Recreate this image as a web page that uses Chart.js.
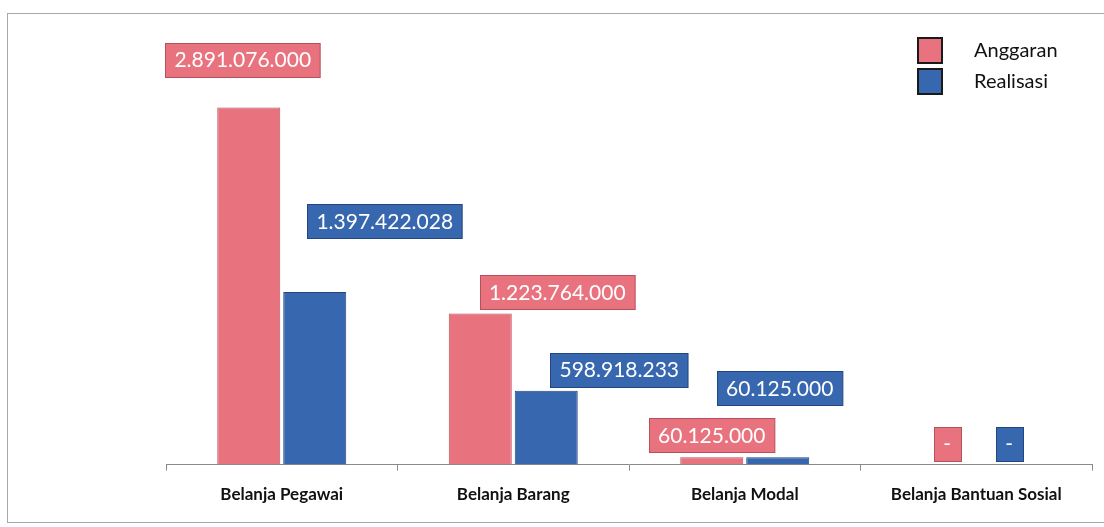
<!DOCTYPE html>
<html>
<head>
<meta charset="utf-8">
<script src="https://cdn.jsdelivr.net/npm/chart.js@4"></script>
<style>
  html, body { margin: 0; padding: 0; background: #ffffff; }
  #wrap { width: 1104px; height: 527px; position: relative; }
</style>
</head>
<body>
<div id="wrap"><canvas id="c" width="1104" height="527"></canvas></div>
<script>
// ---- data ----
const categories = ['Belanja Pegawai', 'Belanja Barang', 'Belanja Modal', 'Belanja Bantuan Sosial'];
const seriesNames = ['Anggaran', 'Realisasi'];
const anggaran = [2891076000, 1223764000, 60125000, 0];
const realisasi = [1397422028, 598918233, 60125000, 0];

// ---- style ----
const fillColors = ['#E8737F', '#3767AE'];
const edgeColors = ['#B8505C', '#22467F'];
// label box centre offsets relative to bar top-centre [dx, dy] per series, per category
const labelOffsets = [
  [[-6, -48], [77, -21], [0, -22], [4, -21]],
  [[70, -71], [73, -21], [2, -69], [0, -21]]
];

function fmt(v) {
  if (!v) return '-';
  return String(v).replace(/\B(?=(\d{3})+(?!\d))/g, '.');
}

const framePlugin = {
  id: 'frame',
  beforeDraw(chart) {
    const ctx = chart.ctx;
    ctx.save();
    ctx.strokeStyle = '#a8a8a8';
    ctx.lineWidth = 1;
    ctx.strokeRect(7.5, 13.5, 1100, 509);
    ctx.restore();
  }
};

const labelPlugin = {
  id: 'boxLabels',
  afterDatasetsDraw(chart) {
    const ctx = chart.ctx;
    ctx.save();
    ctx.font = '21px Lato';
    ctx.textAlign = 'center';
    ctx.textBaseline = 'middle';
    chart.data.datasets.forEach((ds, di) => {
      const meta = chart.getDatasetMeta(di);
      meta.data.forEach((el, i) => {
        const txt = fmt(ds.data[i]);
        const off = labelOffsets[di][i];
        const cx = el.x + off[0];
        const cy = el.y + off[1];
        const tw = ctx.measureText(txt).width;
        const w = txt === '-' ? 27 : tw + 18;
        const h = 34;
        const x0 = Math.round(cx - w / 2) + 0.5;
        const y0 = Math.round(cy - h / 2) + 0.5;
        ctx.fillStyle = fillColors[di];
        ctx.fillRect(x0, y0, w, h);
        ctx.strokeStyle = edgeColors[di];
        ctx.lineWidth = 1;
        ctx.strokeRect(x0, y0, w, h);
        ctx.fillStyle = '#ffffff';
        ctx.fillText(txt, cx, cy + 1);
      });
    });
    ctx.restore();
  }
};

const legendPlugin = {
  id: 'boxLegend',
  afterDraw(chart) {
    const ctx = chart.ctx;
    ctx.save();
    chart.data.datasets.forEach((ds, di) => {
      const y = 38 + di * 31;
      ctx.fillStyle = fillColors[di];
      ctx.fillRect(918, y, 24, 25);
      ctx.strokeStyle = '#1a1a1a';
      ctx.lineWidth = 2;
      ctx.strokeRect(918, y, 24, 25);
      ctx.fillStyle = '#111111';
      ctx.font = '20px Lato';
      ctx.textAlign = 'left';
      ctx.textBaseline = 'middle';
      ctx.fillText(ds.label, 974, y + 13);
    });
    ctx.restore();
  }
};

new Chart(document.getElementById('c'), {
  type: 'bar',
  data: {
    labels: categories,
    datasets: [
      { label: seriesNames[0], data: anggaran, backgroundColor: fillColors[0], borderColor: edgeColors[0], borderWidth: 1 },
      { label: seriesNames[1], data: realisasi, backgroundColor: fillColors[1], borderColor: edgeColors[1], borderWidth: 1 }
    ]
  },
  options: {
    responsive: false,
    animation: false,
    events: [],
    layout: { padding: { left: 166, right: 12, top: 20, bottom: 8 } },
    datasets: { bar: { categoryPercentage: 0.57, barPercentage: 0.955 } },
    plugins: { legend: { display: false }, tooltip: { enabled: false } },
    scales: {
      x: {
        grid: { offset: true, drawOnChartArea: false, drawTicks: true, tickLength: 6, color: '#8a8a8a' },
        border: { display: true, color: '#8a8a8a' },
        ticks: { color: '#111111', font: { family: 'Lato', size: 17, weight: 'bold' }, padding: 14, maxRotation: 0 }
      },
      y: {
        display: false,
        min: 0,
        max: 3600000000
      }
    }
  },
  plugins: [framePlugin, labelPlugin, legendPlugin]
});
</script>
</body>
</html>
